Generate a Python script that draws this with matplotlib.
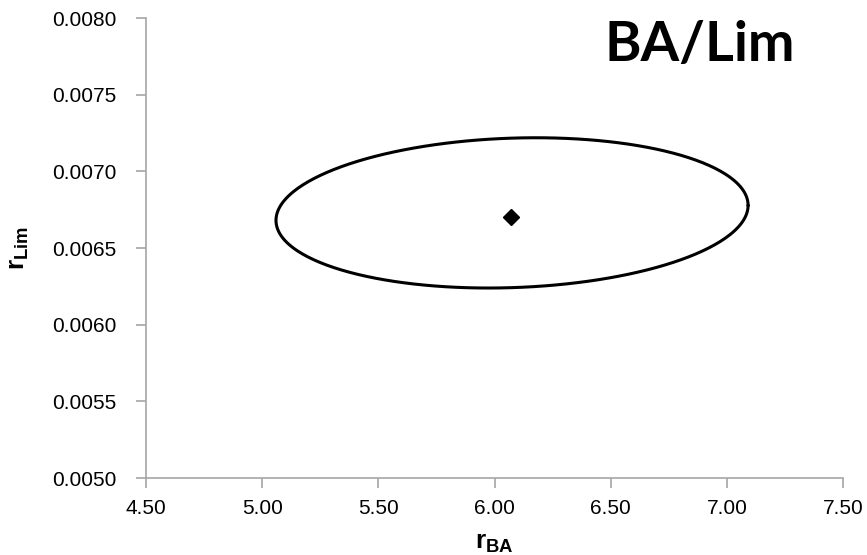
import numpy as np
import matplotlib.pyplot as plt

plt.rcParams['font.family'] = ['Liberation Sans', 'DejaVu Sans']
plt.rcParams['mathtext.fontset'] = 'custom'
plt.rcParams['mathtext.rm'] = 'Liberation Sans'
plt.rcParams['mathtext.bf'] = 'Liberation Sans:bold'

# point estimate and its joint confidence region
r_ba = [6.07]
r_lim = [0.00670]
ell_center = (6.0755, 0.006729)
ell_half_x = 1.016      # half width in r_BA
ell_half_y = 0.00049    # half height in r_Lim
ell_corr = 0.10         # correlation term (tilt)

xticks = [4.50, 5.00, 5.50, 6.00, 6.50, 7.00, 7.50]
yticks = [0.0050, 0.0055, 0.0060, 0.0065, 0.0070, 0.0075, 0.0080]

t = np.linspace(0, 2*np.pi, 400)
phi = np.arccos(ell_corr)
ex = ell_center[0] + ell_half_x*np.cos(t)
ey = ell_center[1] + ell_half_y*np.cos(t - phi)

fig = plt.figure(figsize=(8.67, 5.55), dpi=100)
ax = fig.add_axes([146/867, 1 - 478/555, (843 - 146)/867, (478 - 18)/555])

ax.plot(ex, ey, color='black', lw=2.2, solid_joinstyle='round', solid_capstyle='round')
ax.plot(r_ba, r_lim, marker='D', color='black', ms=8, ls='none')

ax.set_xlim(xticks[0], xticks[-1])
ax.set_ylim(yticks[0], yticks[-1])
ax.set_xticks(xticks)
ax.set_xticklabels(['%.2f' % v for v in xticks])
ax.set_yticks(yticks)
ax.set_yticklabels(['%.4f' % v for v in yticks])

for s in ['top', 'right']:
    ax.spines[s].set_visible(False)
for s in ['left', 'bottom']:
    ax.spines[s].set_color('#a6a6a6')
    ax.spines[s].set_linewidth(1.2)
ax.tick_params(direction='out', length=7, width=1.2, color='#a6a6a6',
               labelsize=15, labelcolor='black')
ax.tick_params(axis='y', pad=14)
ax.tick_params(axis='x', pad=8)

ax.set_xlabel(r'$\mathbf{r_{BA}}$', fontsize=19)
ax.set_ylabel(r'$\mathbf{r_{Lim}}$', fontsize=19)
ax.xaxis.set_label_coords(0.5, -0.115)
ax.yaxis.set_label_coords(-0.165, 0.5)

fig.text(700/867, 1 - 45/555, 'BA/Lim', fontsize=40, fontweight='bold',
         family=['Lato', 'DejaVu Sans'], ha='center', va='center')

fig.savefig('out.png', dpi=100)
